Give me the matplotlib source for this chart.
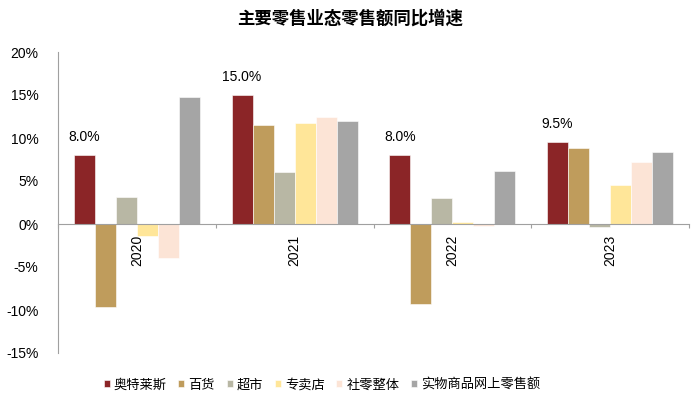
import matplotlib
matplotlib.use("Agg")
import matplotlib.pyplot as plt
import numpy as np

plt.rcParams['font.family'] = ['Liberation Sans', 'Noto Sans CJK SC', 'DejaVu Sans']
plt.rcParams['axes.unicode_minus'] = False

years = ['2020', '2021', '2022', '2023']
series_names = ['奥特莱斯', '百货', '超市', '专卖店', '社零整体', '实物商品网上零售额']
outlets = [8.0, 15.0, 8.0, 9.5]
department = [-9.7, 11.5, -9.3, 8.8]
supermarket = [3.1, 6.0, 3.0, -0.4]
specialty = [-1.4, 11.8, 0.2, 4.5]
total_retail = [-3.9, 12.5, -0.2, 7.2]
online = [14.8, 12.0, 6.2, 8.4]
colors = ['#8B2527', '#BF9C5C', '#B8B7A4', '#FFE699', '#FCE4D6', '#A5A5A5']
yticks = [-15, -10, -5, 0, 5, 10, 15, 20]

data = [outlets, department, supermarket, specialty, total_retail, online]

fig = plt.figure(figsize=(7, 3.99), dpi=100)
ax = fig.add_axes([58/700, 1-353/399, (689-58)/700, (353-52)/399])

x = np.arange(len(years))
n = len(series_names)
w = 0.8 / n
for i, (name, vals, c) in enumerate(zip(series_names, data, colors)):
    pos = x - 0.4 + w * (i + 0.5)
    ax.bar(pos, vals, width=w, color=c, label=name, edgecolor='white', linewidth=0.4)
    if i == 0:
        for px, v in zip(pos, vals):
            ax.annotate(f'{v:.1f}%', (px, v), xytext=(0, 8), textcoords='offset points',
                        ha='center', va='bottom', fontsize=10)

ax.set_xlim(-0.5, len(years) - 0.5)
ax.set_ylim(-15, 20)
ax.set_yticks(yticks)
ax.set_yticklabels([f'{t}%' for t in yticks], fontsize=10)
ax.tick_params(axis='y', length=0, pad=14)

ax.spines['top'].set_visible(False)
ax.spines['right'].set_visible(False)
ax.spines['left'].set_color('#A0A0A0')
ax.spines['bottom'].set_position(('data', 0))
ax.spines['bottom'].set_color('#A0A0A0')

ax.set_xticks(np.arange(len(years) + 1) - 0.5)
ax.set_xticklabels([])
ax.tick_params(axis='x', length=3, color='#A0A0A0')
for xi, y in zip(x, years):
    ax.annotate(y, (xi, 0), xytext=(0, -8), textcoords='offset points',
                rotation=90, ha='center', va='top', fontsize=10)

fig.text(0.5, 1-18/399, '主要零售业态零售额同比增速', ha='center', va='center',
         fontsize=12.5, fontweight='bold')

fig.legend(loc='center', bbox_to_anchor=(322/700, 1-385/399), ncol=6, frameon=False,
           fontsize=9.5, handlelength=0.45, handleheight=0.45, handletextpad=0.3,
           columnspacing=0.9, borderpad=0.2)

fig.savefig('out.png', dpi=100)
